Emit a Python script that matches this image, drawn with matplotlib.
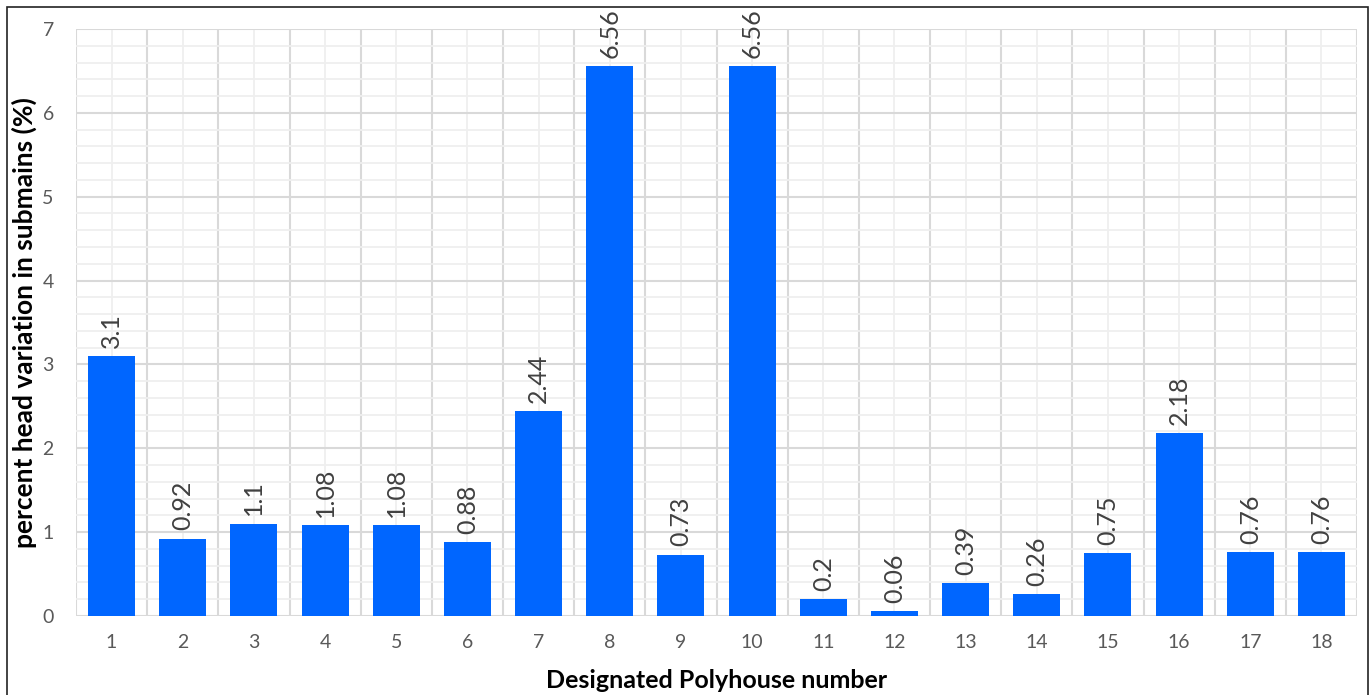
import numpy as np
import matplotlib.pyplot as plt
from matplotlib.patches import Rectangle
from matplotlib.ticker import MultipleLocator, FixedLocator

plt.rcParams['font.family'] = ['Lato', 'DejaVu Sans']

# Head variation in submains per polyhouse
polyhouses = list(range(1, 19))
head_variation = [3.1, 0.92, 1.1, 1.08, 1.08, 0.88, 2.44, 6.56, 0.73,
                  6.56, 0.2, 0.06, 0.39, 0.26, 0.75, 2.18, 0.76, 0.76]
value_labels = ['3.1', '0.92', '1.1', '1.08', '1.08', '0.88', '2.44', '6.56', '0.73',
                '6.56', '0.2', '0.06', '0.39', '0.26', '0.75', '2.18', '0.76', '0.76']

fig = plt.figure(figsize=(13.72, 6.95), dpi=100)
ax = fig.add_axes([0.0554, 0.1137, 0.9337, 0.8446])

# outer frame around the chart
fig.patches.append(Rectangle((7 / 1372, -0.05), 1361 / 1372, 1.05 - 7 / 695,
                             transform=fig.transFigure, fill=False,
                             edgecolor='#222222', linewidth=1.2))

x = np.arange(len(polyhouses))
ax.bar(x, head_variation, width=0.66, color='#0066FF', zorder=3)

for xi, v, lab in zip(x, head_variation, value_labels):
    ax.annotate(lab, (xi, v), xytext=(0, 6), textcoords='offset points',
                rotation=90, ha='center', va='bottom', fontsize=18,
                color='#404040', zorder=4)

ax.set_xlim(-0.5, len(polyhouses) - 0.5)
ax.set_ylim(0, 7)

ax.yaxis.set_major_locator(MultipleLocator(1))
ax.yaxis.set_minor_locator(MultipleLocator(0.2))
ax.xaxis.set_major_locator(FixedLocator(x))
ax.xaxis.set_minor_locator(FixedLocator(np.arange(-0.5, len(polyhouses), 1)))
ax.set_xticklabels([str(p) for p in polyhouses])

# major grid at integers and between categories, minor grid lighter
ax.grid(axis='y', which='major', color='#D9D9D9', linewidth=1.5, zorder=0)
ax.grid(axis='y', which='minor', color='#EFEFEF', linewidth=1.3, zorder=0)
ax.grid(axis='x', which='minor', color='#D9D9D9', linewidth=1.5, zorder=0)
ax.grid(axis='x', which='major', color='#EFEFEF', linewidth=1.3, zorder=0)
ax.set_axisbelow(True)

for s in ax.spines.values():
    s.set_visible(False)
ax.tick_params(which='both', length=0)
ax.tick_params(axis='both', labelsize=14, labelcolor='#595959')
ax.tick_params(axis='x', pad=13)
ax.tick_params(axis='y', pad=16)

ax.set_xlabel('Designated Polyhouse number', fontsize=18, fontweight='bold',
              color='black', labelpad=13)
ax.set_ylabel('percent head variation in submains (%)', fontsize=19,
              fontweight='bold', color='black', labelpad=4)

fig.savefig('out.png', dpi=100)
